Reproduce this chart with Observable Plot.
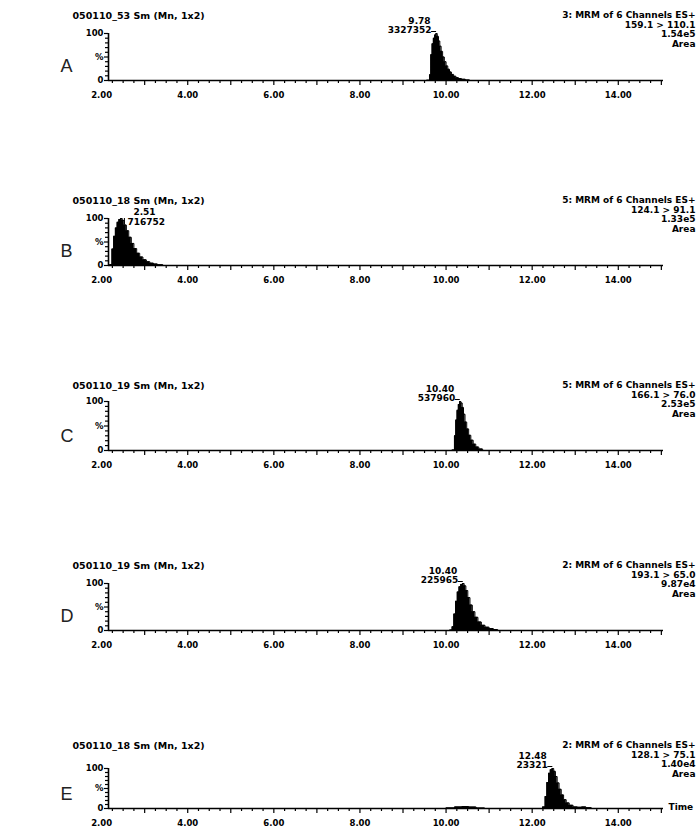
<!DOCTYPE html>
<html><head><meta charset="utf-8">
<script src="https://cdn.jsdelivr.net/npm/d3@7"></script>
<script src="https://cdn.jsdelivr.net/npm/@observablehq/plot@0.6"></script>
<style>
body{margin:0;background:#fff;}
#chart{position:relative;width:697px;height:832px;overflow:hidden;background:#fff;}
.panel{position:absolute;left:0;}
</style></head><body><div id="chart"></div>
<script>
// ---- data ----
const panelLetters = ["A", "B", "C", "D", "E"];
const sampleTitles = [
  "050110_53 Sm (Mn, 1x2)",
  "050110_18 Sm (Mn, 1x2)",
  "050110_19 Sm (Mn, 1x2)",
  "050110_19 Sm (Mn, 1x2)",
  "050110_18 Sm (Mn, 1x2)"
];
const channelLine1 = [
  "3: MRM of 6 Channels ES+",
  "5: MRM of 6 Channels ES+",
  "5: MRM of 6 Channels ES+",
  "2: MRM of 6 Channels ES+",
  "2: MRM of 6 Channels ES+"
];
const channelLine2 = ["159.1 > 110.1", "124.1 > 91.1", "166.1 > 76.0", "193.1 > 65.0", "128.1 > 75.1"];
const channelLine3 = ["1.54e5", "1.33e5", "2.53e5", "9.87e4", "1.40e4"];
const channelLine4 = ["Area", "Area", "Area", "Area", "Area"];
const peakRTLabel = ["9.78", "2.51", "10.40", "10.40", "12.48"];
const peakAreaLabel = ["3327352", "716752", "537960", "225965", "23321"];
const peakApexTime = [9.78, 2.46, 10.33, 10.40, 12.48];
const xTickLabels = [2, 4, 6, 8, 10, 12, 14];
const yTickLabels = [{v: 100, s: "100"}, {v: 50, s: "%"}, {v: 0, s: "0"}];

const A_time = [9.50, 9.60, 9.63, 9.66, 9.69, 9.72, 9.75, 9.78, 9.81, 9.84, 9.87, 9.90, 9.94, 9.98, 10.02, 10.06, 10.10, 10.15, 10.20, 10.26, 10.32, 10.40, 10.50, 10.60];
const A_int  = [0, 0.5, 12, 55, 78, 90, 97, 100, 94, 84, 73, 62, 50, 40, 31, 24, 18, 13, 9, 6, 4, 2.5, 1, 0];
const B_time = [2.16, 2.22, 2.26, 2.30, 2.34, 2.38, 2.42, 2.46, 2.50, 2.55, 2.60, 2.66, 2.72, 2.78, 2.85, 2.92, 3.00, 3.08, 3.16, 3.25, 3.35, 3.50];
const B_int  = [0, 2, 35, 62, 80, 92, 98, 100, 96, 86, 74, 60, 47, 36, 26, 18, 12, 8, 5, 3, 1.5, 0];
const C_time = [10.10, 10.18, 10.21, 10.24, 10.27, 10.30, 10.33, 10.36, 10.39, 10.42, 10.46, 10.50, 10.55, 10.60, 10.66, 10.72, 10.80, 10.90];
const C_int  = [0, 1, 30, 62, 82, 94, 100, 97, 88, 74, 58, 44, 31, 21, 13, 7, 3, 0];
const D_time = [10.05, 10.12, 10.16, 10.20, 10.24, 10.28, 10.32, 10.36, 10.40, 10.44, 10.48, 10.53, 10.58, 10.64, 10.70, 10.78, 10.86, 10.95, 11.05, 11.15, 11.25];
const D_int  = [0, 1, 8, 35, 62, 82, 93, 98, 100, 95, 85, 70, 54, 40, 28, 18, 11, 7, 4, 2, 0];
const E_time = [9.90, 10.10, 10.30, 10.45, 10.60, 10.80, 11.00, 12.20, 12.28, 12.32, 12.36, 12.40, 12.44, 12.48, 12.52, 12.56, 12.60, 12.65, 12.70, 12.76, 12.82, 12.90, 13.00, 13.10, 13.20, 13.30, 13.45];
const E_int  = [0, 1.5, 4, 5, 3.5, 1, 0, 0, 4, 30, 65, 88, 97, 100, 93, 80, 64, 48, 34, 22, 14, 8, 4, 3, 4, 2, 0];

const seriesTime = [A_time, B_time, C_time, D_time, E_time];
const seriesInt = [A_int, B_int, C_int, D_int, E_int];

// ---- layout (not data) ----
const layout = [
  {pos: 0,   h: 100, top: 33, base: 80, labelSide: "left"},
  {pos: 185, h: 100, top: 33, base: 80, labelSide: "right"},
  {pos: 370, h: 100, top: 31, base: 80, labelSide: "left"},
  {pos: 550, h: 100, top: 33, base: 80, labelSide: "left"},
  {pos: 730, h: 100, top: 38, base: 78, labelSide: "left", time: true}
];
const X0 = 2.16, X1 = 15.05, ML = 108, MR = 34, W = 697;
const pxPerX = (W - ML - MR) / (X1 - X0);
const minorX = d3.range(2.25, 15.01, 0.25);
const yTicks = d3.range(0, 101, 10);
const FONT = "DejaVu Sans";

function panel(i) {
  const L = layout[i];
  const pxPerY = (L.base - L.top) / 100;
  const yu = px => px / pxPerY;
  const xu = px => px / pxPerX;
  const data = seriesTime[i].map((t, j) => ({t, v: seriesInt[i][j]}));
  const apex = peakApexTime[i];
  const right = L.labelSide === "right";
  const marks = [
    Plot.areaY(data, {x: "t", y: "v", fill: "#000", curve: "step"}),
    Plot.lineY(data, {x: "t", y: "v", stroke: "#000", strokeWidth: 1, curve: "step"}),
    Plot.ruleY([0], {x1: X0, x2: X1, stroke: "#000", strokeWidth: 1.6}),
    Plot.ruleX([X0], {y1: 0, y2: 100, stroke: "#000", strokeWidth: 1.6}),
    Plot.ruleX(minorX, {x: d => d, y1: 0, y2: d => -yu(Math.abs(d - Math.round(d)) < 1e-6 ? 5 : 3), stroke: "#000", strokeWidth: 1.2}),
    Plot.ruleY(yTicks, {y: d => d, x1: d => X0 - xu(d % 50 === 0 ? 4 : 3), x2: X0, stroke: "#000", strokeWidth: 1.2}),
    Plot.text(yTickLabels, {x: X0, y: "v", text: "s", dx: -5, textAnchor: "end", fontSize: 8.5}),
    Plot.text(xTickLabels, {x: d => d, y: 0, text: d => d.toFixed(2), dy: 15, fontSize: 8.5}),
    // peak annotation
    Plot.text([apex], {x: d => d, y: 100, text: () => peakRTLabel[i], dx: right ? 12 : -6, dy: right ? -6 : -12, textAnchor: right ? "start" : "end"}),
    Plot.text([apex], {x: d => d, y: 100, text: () => peakAreaLabel[i], dx: right ? 6 : -5, dy: right ? 4 : -3, textAnchor: right ? "start" : "end"}),
    right
      ? Plot.ruleX([apex + xu(3)], {y1: 100, y2: 100 - yu(6), stroke: "#000", strokeWidth: 1})
      : Plot.ruleY([100], {x1: apex - xu(5), x2: apex, dy: -2, stroke: "#000", strokeWidth: 1}),
    // sample title
    Plot.text([sampleTitles[i]], {frameAnchor: "top-left", text: d => d, dx: 72 - ML, dy: 15 - L.top, textAnchor: "start", lineAnchor: "middle", fontSize: 9.5}),
    // channel info
    Plot.text([[channelLine1[i], channelLine2[i], channelLine3[i], channelLine4[i]].join("\n")], {
      frameAnchor: "top-right", text: d => d, dx: 695 - (W - MR), dy: 11 - L.top, textAnchor: "end", lineAnchor: "top", lineHeight: 1.05
    }),
    // panel letter
    Plot.text([panelLetters[i]], {frameAnchor: "bottom-left", text: d => d, dx: 60 - ML, dy: -9, fontSize: 18, fontWeight: "normal", fontFamily: "Liberation Sans", fill: "#222"})
  ];
  if (L.time) {
    marks.push(Plot.text(["Time"], {frameAnchor: "bottom-right", text: d => d, dx: 5, dy: 1, textAnchor: "start"}));
  }
  return Plot.plot({
    width: W, height: L.h,
    marginTop: L.top, marginBottom: L.h - L.base, marginLeft: ML, marginRight: MR,
    x: {domain: [X0, X1], axis: null},
    y: {domain: [0, 100], axis: null},
    style: {fontFamily: FONT, fontWeight: "bold", fontSize: "9px", color: "#000", background: "#fff", overflow: "visible"},
    marks
  });
}

const root = document.getElementById("chart");
layout.forEach((L, i) => {
  const div = document.createElement("div");
  div.className = "panel";
  div.style.top = L.pos + "px";
  div.appendChild(panel(i));
  root.appendChild(div);
});
</script></body></html>
